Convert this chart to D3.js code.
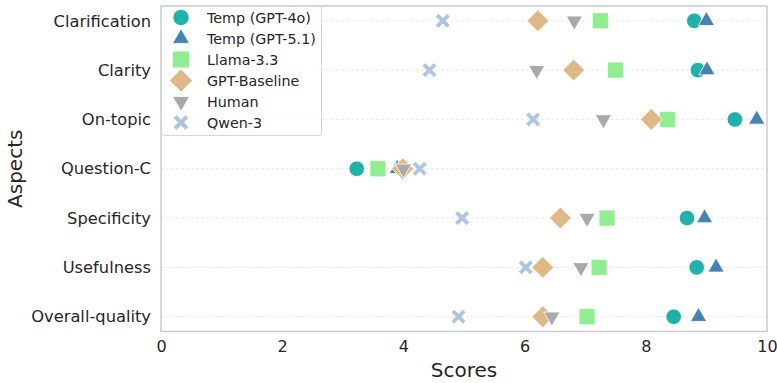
<!DOCTYPE html>
<html>
<head>
<meta charset="utf-8">
<script src="https://cdn.jsdelivr.net/npm/d3@7"></script>
<style>
	body { margin: 0; background: #fff; }
	text { font-family: "DejaVu Sans", sans-serif; fill: #262626; }
</style>
</head>
<body>
<svg id="svg1"></svg>
<script>
// Aspects shown on the y axis (top to bottom)
aspects = ["Clarification", "Clarity", "On-topic", "Question-C", "Specificity", "Usefulness", "Overall-quality"];

// Scores per model, same order as aspects
temp_gpt4o  = [8.80, 8.86, 9.47, 3.23, 8.68, 8.84, 8.46];
temp_gpt51  = [9.00, 9.01, 9.83, 3.90, 8.97, 9.16, 8.87];
llama33     = [7.25, 7.50, 8.36, 3.58, 7.36, 7.23, 7.03];
gpt_base    = [6.22, 6.81, 8.09, 3.99, 6.59, 6.30, 6.30];
human       = [6.82, 6.20, 7.30, 4.00, 7.03, 6.93, 6.45];
qwen3       = [4.65, 4.43, 6.14, 4.27, 4.97, 6.02, 4.91];

x_ticks = [0, 2, 4, 6, 8, 10];

series_names = ["Temp (GPT-4o)", "Temp (GPT-5.1)", "Llama-3.3", "GPT-Baseline", "Human", "Qwen-3"];
series_values = [temp_gpt4o, temp_gpt51, llama33, gpt_base, human, qwen3];

// filled "X" marker, like matplotlib's 'X'
symbolFilledX = {
	draw: function(context, size) {
		var r = Math.sqrt(size) / 2;
		var t = r * 0.42;
		var pts = [
			[-r + t, -r], [0, -t], [r - t, -r], [r, -r + t], [t, 0], [r, r - t],
			[r - t, r], [0, t], [-r + t, r], [-r, r - t], [-t, 0], [-r, -r + t]
		];
		context.moveTo(pts[0][0], pts[0][1]);
		for (var i = 1; i < pts.length; i++) context.lineTo(pts[i][0], pts[i][1]);
		context.closePath();
	}
};

series_styles = [
	{ color: "#20B2AA", type: d3.symbolCircle,   size: 190, rotate: 0 },
	{ color: "#4682B4", type: d3.symbolTriangle, size: 115, rotate: 0 },
	{ color: "#90EE90", type: d3.symbolSquare,   size: 260, rotate: 0 },
	{ color: "#DEB887", type: d3.symbolSquare,   size: 240, rotate: 45 },
	{ color: "#A9A9A9", type: d3.symbolTriangle, size: 115, rotate: 180 },
	{ color: "#B0C4DE", type: symbolFilledX,     size: 220, rotate: 0 }
];

function draw_chart() {
	settings = {
		width: 777,
		height: 383,
		left: 161,
		right: 767,
		top: 6,
		bottom: 331.5
	}

	svg = d3.select("#svg1")
		.attr("width", settings.width)
		.attr("height", settings.height)

	var x = d3.scaleLinear().domain([0, 10]).range([settings.left, settings.right]);
	var y = d3.scalePoint().domain(aspects).range([settings.top, settings.bottom]).padding(0.3);

	// horizontal dashed grid
	svg.append("g")
		.selectAll("line")
		.data(aspects)
		.enter().append("line")
		.attr("x1", settings.left)
		.attr("x2", settings.right)
		.attr("y1", d => y(d))
		.attr("y2", d => y(d))
		.attr("stroke", "#e3e3e3")
		.attr("stroke-width", 0.8)
		.attr("stroke-dasharray", "3,2");

	// axes (no tick marks, seaborn whitegrid look)
	var xAxis = svg.append("g")
		.attr("transform", "translate(0," + settings.bottom + ")")
		.call(d3.axisBottom(x).tickValues(x_ticks).tickSize(0).tickPadding(9));
	xAxis.select(".domain").remove();
	xAxis.selectAll("text").style("font-size", "16px").attr("fill", "#262626");

	var yAxis = svg.append("g")
		.attr("transform", "translate(" + settings.left + ",0)")
		.call(d3.axisLeft(y).tickSize(0).tickPadding(10));
	yAxis.select(".domain").remove();
	yAxis.selectAll("text").style("font-size", "16.3px").attr("fill", "#262626");

	// frame
	svg.append("rect")
		.attr("x", settings.left)
		.attr("y", settings.top)
		.attr("width", settings.right - settings.left)
		.attr("height", settings.bottom - settings.top)
		.attr("fill", "none")
		.attr("stroke", "#cccccc")
		.attr("stroke-width", 1.5);

	// markers, drawn series by series in legend order
	series_values.forEach(function(vals, si) {
		var st = series_styles[si];
		var sym = d3.symbol().type(st.type).size(st.size);
		svg.append("g")
			.selectAll("path")
			.data(vals)
			.enter().append("path")
			.attr("d", sym)
			.attr("transform", (d, i) => "translate(" + x(d) + "," + y(aspects[i]) + ") rotate(" + st.rotate + ")")
			.attr("fill", st.color)
			.attr("stroke", "#fff")
			.attr("stroke-width", 0.8);
	});

	// axis titles
	svg.append("text")
		.attr("x", (settings.left + settings.right) / 2)
		.attr("y", 377)
		.attr("text-anchor", "middle")
		.style("font-size", "20px")
		.text("Scores");

	svg.append("text")
		.attr("transform", "translate(22," + ((settings.top + settings.bottom) / 2) + ") rotate(-90)")
		.attr("text-anchor", "middle")
		.style("font-size", "20px")
		.text("Aspects");

	// legend
	var legend = svg.append("g").attr("transform", "translate(161,6)");
	legend.append("rect")
		.attr("x", 0.5)
		.attr("y", 0.5)
		.attr("width", 160)
		.attr("height", 129)
		.attr("rx", 3)
		.attr("fill", "#fff")
		.attr("fill-opacity", 0.85)
		.attr("stroke", "#d6d6d6");

	series_names.forEach(function(name, si) {
		var st = series_styles[si];
		var ly = 11.5 + si * 21;
		legend.append("path")
			.attr("d", d3.symbol().type(st.type).size(st.size * 1.1))
			.attr("transform", "translate(20," + ly + ") rotate(" + st.rotate + ")")
			.attr("fill", st.color)
			.attr("stroke", "#fff")
			.attr("stroke-width", 0.8);
		legend.append("text")
			.attr("x", 46)
			.attr("y", ly)
			.attr("dy", "0.35em")
			.style("font-size", "14.3px")
			.text(name);
	});
}

draw_chart();
</script>
</body>
</html>
